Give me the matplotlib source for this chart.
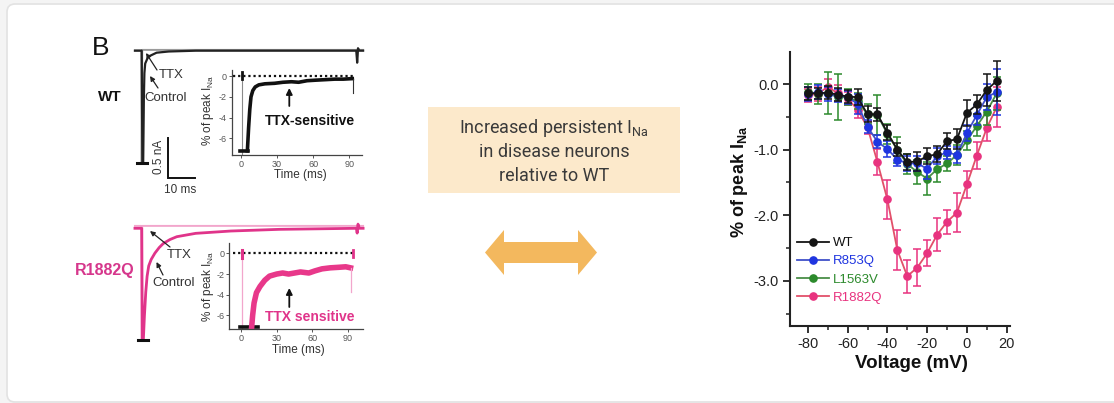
import numpy as np
import matplotlib
matplotlib.use("Agg")
import matplotlib.pyplot as plt
from matplotlib.patches import FancyBboxPatch, Rectangle, Polygon
from matplotlib.lines import Line2D
from matplotlib.ticker import MultipleLocator, FormatStrFormatter

W, H = 1114, 403

plt.rcParams['font.family'] = ['Liberation Sans', 'DejaVu Sans']
plt.rcParams['axes.unicode_minus'] = False
plt.rcParams['mathtext.fontset'] = 'custom'
plt.rcParams['mathtext.rm'] = 'Liberation Sans'
plt.rcParams['mathtext.bf'] = 'Liberation Sans:bold'
plt.rcParams['mathtext.it'] = 'Liberation Sans:italic'
plt.rcParams['mathtext.sf'] = 'Roboto'

# ---------------- I-V relationship of persistent current ----------------
voltage = [-80, -75, -70, -65, -60, -55, -50, -45, -40, -35,
           -30, -25, -20, -15, -10, -5, 0, 5, 10, 15]

wt_mean = [-0.14, -0.14, -0.13, -0.16, -0.19, -0.20, -0.46, -0.46, -0.74, -1.00,
           -1.19, -1.18, -1.10, -1.07, -0.87, -0.84, -0.44, -0.31, -0.09, 0.05]
wt_err = [0.10, 0.08, 0.10, 0.10, 0.10, 0.12, 0.12, 0.10, 0.12, 0.10,
          0.12, 0.14, 0.12, 0.12, 0.12, 0.15, 0.20, 0.15, 0.25, 0.30]

r853q_mean = [-0.15, -0.12, -0.15, -0.17, -0.20, -0.30, -0.65, -0.88, -0.99, -1.15,
              -1.21, -1.21, -1.29, -1.10, -1.04, -1.08, -0.75, -0.47, -0.20, -0.12]
r853q_err = [0.10, 0.10, 0.10, 0.10, 0.10, 0.15, 0.10, 0.10, 0.12, 0.10,
             0.12, 0.12, 0.15, 0.12, 0.10, 0.12, 0.12, 0.15, 0.20, 0.35]

l1563v_mean = [-0.12, -0.15, -0.14, -0.20, -0.20, -0.26, -0.46, -0.47, -0.76, -1.00,
               -1.22, -1.34, -1.44, -1.30, -1.21, -1.08, -0.86, -0.64, -0.42, -0.14]
l1563v_err = [0.12, 0.15, 0.32, 0.35, 0.12, 0.12, 0.15, 0.30, 0.15, 0.20,
              0.15, 0.18, 0.25, 0.20, 0.12, 0.15, 0.15, 0.15, 0.20, 0.25]

r1882q_mean = [-0.17, -0.15, -0.04, -0.14, -0.22, -0.39, -0.66, -1.19, -1.76, -2.53,
               -2.93, -2.80, -2.58, -2.30, -2.10, -1.96, -1.53, -1.09, -0.67, -0.35]
r1882q_err = [0.10, 0.10, 0.12, 0.12, 0.10, 0.12, 0.10, 0.20, 0.30, 0.30,
              0.25, 0.28, 0.20, 0.25, 0.18, 0.30, 0.20, 0.20, 0.20, 0.30]

# ---------------- whole-cell sodium current traces (ms, nA) ----------------
wt_ctrl_t = [-2.5, 0.0, 0.25, 0.55, 0.8, 1.0, 1.3, 2.4, 5.5, 10, 20, 79.5, 79.8, 80.1, 80.6, 82]
wt_ctrl_i = [0, 0, -1.40, -1.40, -0.60, -0.28, -0.16, -0.075, -0.025, -0.01, 0, 0, -0.15, 0.03, 0, 0]
wt_ttx_t = [-2.5, -0.1, -0.05, 0.05, 0.2, 79.5, 79.8, 80.1, 80.6, 82]
wt_ttx_i = [0.005, 0.005, -1.40, -1.40, 0.01, 0.01, -0.12, 0.03, 0.01, 0.01]

r_ctrl_t = [-2.5, 0.0, 0.25, 0.6, 1.0, 1.5, 2.0, 2.6, 3.5, 4.9, 6.5, 8.0, 10.5, 13, 20, 33, 51,
            79.5, 79.8, 80.1, 80.6, 82]
r_ctrl_i = [0, 0, -1.40, -1.40, -1.10, -0.80, -0.60, -0.47, -0.39, -0.31, -0.24, -0.19, -0.14,
            -0.105, -0.063, -0.034, -0.013, 0, -0.06, 0.05, 0, 0]
r_ttx_t = [-2.5, -0.1, -0.05, 0.05, 0.2, 79.5, 79.8, 80.1, 80.6, 82]
r_ttx_i = [0.03, 0.03, -1.40, -1.40, 0.03, 0.03, -0.03, 0.06, 0.03, 0.03]

# TTX-sensitive persistent current (% of peak)
wt_sens_t = [5.5, 6.5, 7.5, 8.5, 10, 12, 15, 20, 28, 35, 42, 48, 55, 62, 70, 78, 85, 92.5]
wt_sens_v = [-7.2, -5.0, -3.2, -2.0, -1.4, -1.05, -0.85, -0.75, -0.70, -0.60, -0.55, -0.60,
             -0.45, -0.40, -0.35, -0.30, -0.30, -0.25]
r_sens_t = [9, 9.8, 11, 13, 16, 20, 24, 30, 35, 40, 45, 50, 57, 62, 68, 75, 82, 88, 92]
r_sens_v = [-7.1, -6.0, -4.8, -3.8, -3.2, -2.6, -2.2, -2.0, -1.9, -2.0, -1.9, -1.8, -1.9,
            -1.7, -1.5, -1.4, -1.35, -1.3, -1.4]

BLACK = '#151515'
BLUE_M, BLUE_L = '#1f35e0', '#4050c8'
GREEN_M, GREEN_L = '#2c8a2c', '#4a8f48'
PINK_M, PINK_L = '#e8337f', '#e2506a'
MAGENTA = '#e0348a'
LIGHT_PINK = '#f2a6cc'

fig = plt.figure(figsize=(W / 100, H / 100), dpi=100)
fig.patch.set_facecolor('#f4f4f4')


def px_axes(l, t, r, b, **kw):
    return fig.add_axes([l / W, 1 - b / H, (r - l) / W, (b - t) / H], **kw)


def px_overlay(z):
    a = px_axes(0, 0, W, H, zorder=z)
    a.set_xlim(0, W)
    a.set_ylim(H, 0)
    a.axis('off')
    a.patch.set_alpha(0)
    return a


# card background
bg = px_overlay(-5)
bg.add_patch(FancyBboxPatch((7, 4), W + 20, H - 5, boxstyle='round,pad=0,rounding_size=8',
                            fc='white', ec='#e2e2e2', lw=1.2))

# ---------------- centre: text box and double arrow ----------------
bg.add_patch(Rectangle((428, 107), 252, 86, fc='#fce9cb', ec='none'))
box_kw = dict(ha='center', va='center', fontsize=13, color='#3a3a3a',
              family=['Roboto', 'DejaVu Sans'], fontweight='normal')
bg.text(554, 128, r'Increased persistent I$_{\mathsf{Na}}$', **box_kw)
bg.text(554, 152, 'in disease neurons', **box_kw)
bg.text(554, 176, 'relative to WT', **box_kw)

ay, hh, sh, hl = 252.5, 22.5, 10.5, 19
x0, x1 = 485, 597
bg.add_patch(Polygon([(x0, ay), (x0 + hl, ay - hh), (x0 + hl, ay - sh), (x1 - hl, ay - sh),
                      (x1 - hl, ay - hh), (x1, ay), (x1 - hl, ay + hh), (x1 - hl, ay + sh),
                      (x0 + hl, ay + sh), (x0 + hl, ay + hh)], closed=True,
                     fc='#f3b85e', ec='none'))

# ---------------- right: I-V plot ----------------
ax = px_axes(790, 52, 1010, 326)
ax.patch.set_alpha(0)
series = [
    ('WT', wt_mean, wt_err, BLACK, BLACK, 5),
    ('R853Q', r853q_mean, r853q_err, BLUE_M, BLUE_L, 4),
    ('L1563V', l1563v_mean, l1563v_err, GREEN_M, GREEN_L, 3),
    ('R1882Q', r1882q_mean, r1882q_err, PINK_M, PINK_L, 2),
]
handles = []
for name, m, e, mc, lc, z in series:
    ax.errorbar(voltage, m, yerr=e, fmt='-o', color=lc, mfc=mc, mec=mc, ecolor=mc,
                ms=5.2, lw=1.3, elinewidth=1.1, capsize=3, capthick=1.1, zorder=z)
    handles.append(Line2D([], [], color=lc, lw=1.3, marker='o', ms=5.2, mfc=mc, mec=mc,
                          label=name))
ax.set_xlim(-89, 21.7)
ax.set_ylim(-3.69, 0.49)
for s in ['top', 'right']:
    ax.spines[s].set_visible(False)
for s in ['left', 'bottom']:
    ax.spines[s].set_linewidth(1.5)
    ax.spines[s].set_color('#222222')
ax.set_xticks([-80, -60, -40, -20, 0, 20])
ax.xaxis.set_minor_locator(MultipleLocator(10))
ax.set_yticks([-3, -2, -1, 0])
ax.yaxis.set_minor_locator(MultipleLocator(0.5))
ax.yaxis.set_major_formatter(FormatStrFormatter('%.1f'))
ax.tick_params(which='major', direction='out', length=5, width=1.3, labelsize=10.5,
               colors='#222222', pad=3)
ax.tick_params(which='minor', direction='out', length=3, width=1.1, colors='#222222')
fig.text(911.7 / W, 1 - 363 / H, 'Voltage (mV)', ha='center', va='center',
         fontsize=13.5, fontweight='bold', color='#111111')
fig.text(739 / W, 1 - 182 / H, r'% of peak I$_{\mathbf{Na}}$', ha='center', va='center',
         rotation=90, fontsize=13, fontweight='bold', color='#111111')
leg = ax.legend(handles=handles, loc='upper left',
                bbox_to_anchor=((797 - 790) / 220, 1 - (237 - 52) / 274),
                frameon=False, fontsize=9.5, handlelength=2.4, handletextpad=0.3,
                labelspacing=0.45, borderpad=0, borderaxespad=0)
for t, (_, _, _, mc, _, _) in zip(leg.get_texts(), series):
    t.set_color(mc if mc != BLACK else '#111111')

# ---------------- left: current traces ----------------
PX_MS, PX_NA = 2.7, 80.0
T0_PX = 141.7


def trace_axes(t, b, base_px):
    a = px_axes(125, t, 370, b)
    a.set_xlim((125 - T0_PX) / PX_MS, (370 - T0_PX) / PX_MS)
    a.set_ylim((base_px - b) / PX_NA, (base_px - t) / PX_NA)
    a.axis('off')
    a.patch.set_alpha(0)
    return a


ta = trace_axes(40, 190, 50.7)
ta.plot(wt_ttx_t, wt_ttx_i, color='#9a9a9a', lw=1.4, zorder=2)
ta.plot(wt_ctrl_t, wt_ctrl_i, color='#222222', lw=1.6, zorder=3)
ta.plot([-1.7, 2.0], [-1.40, -1.40], color='#111111', lw=2.2, zorder=4)
# scale bars: 0.5 nA and 10 ms
ta.plot([9.85, 9.85, 19.85], [-1.09, -1.59, -1.59], color='#111111', lw=1.4,
        solid_joinstyle='miter')

tb = trace_axes(215, 350, 228.3)
tb.plot(r_ttx_t, r_ttx_i, color=LIGHT_PINK, lw=1.4, zorder=2)
tb.plot(r_ctrl_t, r_ctrl_i, color=MAGENTA, lw=2.0, zorder=3)
tb.plot([-1.5, 2.2], [-1.40, -1.40], color='#111111', lw=2.2, zorder=4)


def inset(l, t, r, b, xlim, ylim):
    a = px_axes(l, t, r, b)
    a.set_xlim(*xlim)
    a.set_ylim(*ylim)
    a.patch.set_alpha(0)
    for s in ['top', 'right']:
        a.spines[s].set_visible(False)
    for s in ['left', 'bottom']:
        a.spines[s].set_linewidth(0.9)
        a.spines[s].set_color('#444444')
    a.set_xticks([0, 30, 60, 90])
    a.set_yticks([0, -2, -4, -6])
    a.tick_params(labelsize=6.5, length=2, width=0.7, pad=1.5, colors='#555555')
    a.plot([-6.5, 94], [0, 0], color='#111111', lw=1.6, ls=(0, (1, 1.3)), zorder=1)
    return a


ia = inset(231.7, 70, 361.7, 155, (-7.5, 100.3), (-7.6, 0.58))
ia.plot([0.8, 0.8], [0.4, -7.6], color='#8a8a8a', lw=0.8)
ia.plot([0.8, 0.8], [0.4, -0.3], color='#111111', lw=2)
ia.plot([-0.5, 6.0], [-7.25, -7.25], color='#111111', lw=2.6)
ia.plot(wt_sens_t, wt_sens_v, color='#111111', lw=2.6, solid_joinstyle='round')
ia.plot([92.8, 92.8], [-0.25, -1.6], color='#333333', lw=0.8)

ib = inset(229.3, 243.3, 363, 329.3, (-9.8, 102.5), (-7.34, 0.97))
ib.plot([0.6, 0.6], [0.35, -7.34], color=LIGHT_PINK, lw=0.9)
ib.plot([0.6, 0.6], [0.35, -0.45], color=MAGENTA, lw=2.2)
ib.plot([-0.8, 14.5], [-7.1, -7.1], color='#111111', lw=2.6)
ib.plot(r_sens_t, r_sens_v, color='#e8388a', lw=4.0, solid_joinstyle='round')
ib.plot([92.5, 92.5], [-1.4, -3.7], color=LIGHT_PINK, lw=0.9)
ib.plot([94, 94], [0.35, -0.4], color=MAGENTA, lw=2.0)

# ---------------- labels and arrows on the traces ----------------
top = px_overlay(20)
top.text(92, 48, 'B', ha='left', va='center', fontsize=19, color='#111111')
top.text(110, 97, 'WT', ha='center', va='center', fontsize=11, fontweight='bold', color='#111111')
top.text(105, 270, 'R1882Q', ha='center', va='center', fontsize=11.5, fontweight='bold',
         color='#d6378c')

small = dict(ha='center', va='center', fontsize=9.5, color='#333333')
top.text(171, 75, 'TTX', **small)
top.text(166, 98, 'Control', **small)
top.text(179, 255, 'TTX', **small)
top.text(174, 283, 'Control', **small)

arr_thin = dict(arrowstyle='-|>', lw=0.9, color='#222222', mutation_scale=7,
                shrinkA=0, shrinkB=0)
top.annotate('', xy=(146, 53), xytext=(157, 70), arrowprops=arr_thin)
top.annotate('', xy=(150, 76), xytext=(158, 88), arrowprops=arr_thin)
top.annotate('', xy=(150, 231), xytext=(170, 247), arrowprops=arr_thin)
top.annotate('', xy=(156.5, 262), xytext=(163, 275), arrowprops=arr_thin)

arr_thick = dict(arrowstyle='-|>', lw=1.3, color='#111111', mutation_scale=9,
                 shrinkA=0, shrinkB=0)
top.annotate('', xy=(289.3, 88), xytext=(289.3, 106), arrowprops=arr_thick)
top.annotate('', xy=(289.3, 288), xytext=(289.3, 307), arrowprops=arr_thick)
top.text(310, 121, 'TTX-sensitive', ha='center', va='center', fontsize=10,
         fontweight='bold', color='#111111')
top.text(310, 317, 'TTX sensitive', ha='center', va='center', fontsize=10,
         fontweight='bold', color='#e0348a')

top.text(159, 157, '0.5 nA', ha='center', va='center', rotation=90, fontsize=8.5,
         color='#333333')
top.text(180, 190, '10 ms', ha='center', va='center', fontsize=8.5, color='#333333')

lab = dict(ha='center', va='center', fontsize=8.5, color='#333333')
top.text(300, 175, 'Time (ms)', **lab)
top.text(298, 350, 'Time (ms)', **lab)
top.text(208, 110, r'% of peak I$_{\mathrm{Na}}$', rotation=90, **lab)
top.text(208, 286, r'% of peak I$_{\mathrm{Na}}$', rotation=90, **lab)

fig.savefig('out.png', dpi=100, facecolor=fig.get_facecolor())
